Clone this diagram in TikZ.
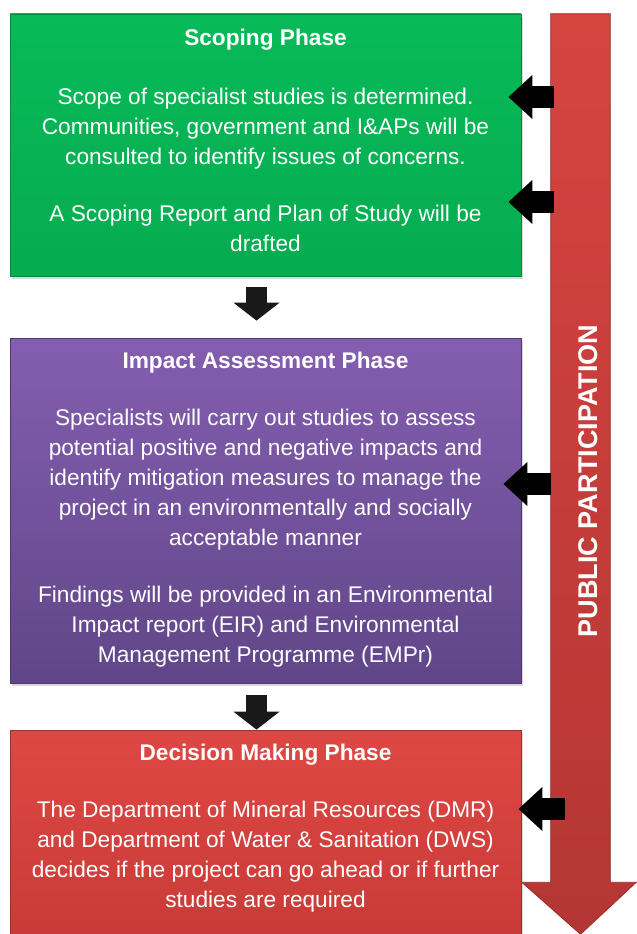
\documentclass[tikz,border=0pt]{standalone}
\usepackage{fontspec}
\setmainfont{Liberation Sans}
\definecolor{scopegreen}{RGB}{8, 186, 88}
\definecolor{scopegreendark}{RGB}{5, 172, 80}
\definecolor{impactviolet}{RGB}{132, 94, 176}
\definecolor{impactvioletdark}{RGB}{96, 70, 136}
\definecolor{decisionred}{RGB}{222, 72, 68}
\definecolor{decisionreddark}{RGB}{200, 58, 55}
\definecolor{ppred}{RGB}{214, 68, 64}
\definecolor{ppreddark}{RGB}{180, 54, 52}
\usetikzlibrary{arrows.meta, positioning, calc, shadows}

\begin{document}
\begin{tikzpicture}[x=0.75pt, y=-0.75pt,
  phasebox/.style={rectangle, minimum width=383.25pt, inner sep=0pt, line width=0.6pt,
    drop shadow={opacity=0.3, shadow xshift=1.5pt, shadow yshift=-2pt}},
  phasetitle/.style={text=white, font=\fontsize{17}{22.5}\selectfont\bfseries},
  phasetext/.style={text=white, align=center, font=\fontsize{17}{22.5}\selectfont},
  ppin/.style={line width=17pt, -{Triangle[length=18pt, width=32pt]}},
  flowdown/.style={line width=16pt, black!90, -{Triangle[length=13.5pt, width=34pt]}}]
  \useasboundingbox (0,0) rectangle (636,934);

  % Public participation arrow
  \node[minimum width=44.25pt, minimum height=651pt, inner sep=0pt] (ppbar) at (580.5,448) {};
  \path[top color=ppred, bottom color=ppreddark, draw=ppreddark!85!black, line width=0.6pt]
    (ppbar.north west) -- (ppbar.north east) -- (ppbar.south east) -- ++(26,0)
    -- ($(ppbar.south)+(0,52)$) -- ($(ppbar.south west)+(-29,0)$) -- (ppbar.south west) -- cycle;
  \node[rotate=90, text=white, font=\fontsize{20.3}{21}\selectfont\bfseries] (pptext) at (588,481) {PUBLIC PARTICIPATION};

  % Three phase boxes
  \node[phasebox, top color=scopegreen, bottom color=scopegreendark, draw=scopegreendark!80!black,
    minimum height=196.5pt] (scoping) at (265.5,145) {};
  \node[phasetitle] (scopingtitle) at (265.5,40) {Scoping Phase};
  \node[phasetext] (scopingtext) at (265.5,170) {
    Scope of specialist studies is determined.\\
    Communities, government and I\&APs will be\\
    consulted to identify issues of concerns.\\[20pt]
    A Scoping Report and Plan of Study will be\\
    drafted};

  \node[phasebox, top color=impactviolet, bottom color=impactvioletdark, draw=impactvioletdark!80!black,
    minimum height=258.75pt] (impact) at (265.5,510.5) {};
  \node[phasetitle] (impacttitle) at (265.5,363) {Impact Assessment Phase};
  \node[phasetext] (impacttext) at (265.5,538) {
    Specialists will carry out studies to assess\\
    potential positive and negative impacts and\\
    identify mitigation measures to manage the\\
    project in an environmentally and socially\\
    acceptable manner\\[20pt]
    Findings will be provided in an Environmental\\
    Impact report (EIR) and Environmental\\
    Management Programme (EMPr)};

  \node[phasebox, top color=decisionred, bottom color=decisionreddark, draw=decisionreddark!80!black,
    minimum height=161.25pt] (decision) at (265.5,837.5) {};
  \node[phasetitle] (decisiontitle) at (265.5,755) {Decision Making Phase};
  \node[phasetext] (decisiontext) at (265.5,856.5) {
    The Department of Mineral Resources (DMR)\\
    and Department of Water \& Sanitation (DWS)\\
    decides if the project can go ahead or if further\\
    studies are required};

  % Flow between phases
  \draw[flowdown, shorten <=8.25pt, shorten >=12.75pt]
    ($(scoping.south)+(-9,0)$) -- ($(impact.north)+(-9,0)$);
  \draw[flowdown, shorten <=9pt]
    ($(impact.south)+(-9,0)$) -- ($(decision.north)+(-9,0)$);

  % Input from public participation
  \draw[ppin, shorten <=-2.25pt, shorten >=-9.75pt] (ppbar.west |- 0,97) -- (scoping.east |- 0,97);
  \draw[ppin, shorten <=-2.25pt, shorten >=-9.75pt] (ppbar.west |- 0,202) -- (scoping.east |- 0,202);
  \draw[ppin, shorten >=-13.5pt] (ppbar.west |- 0,484) -- (impact.east |- 0,484);
  \draw[ppin, shorten <=-10.5pt, shorten >=-2.25pt] (ppbar.west |- 0,809) -- (decision.east |- 0,809);
\end{tikzpicture}
\end{document}
